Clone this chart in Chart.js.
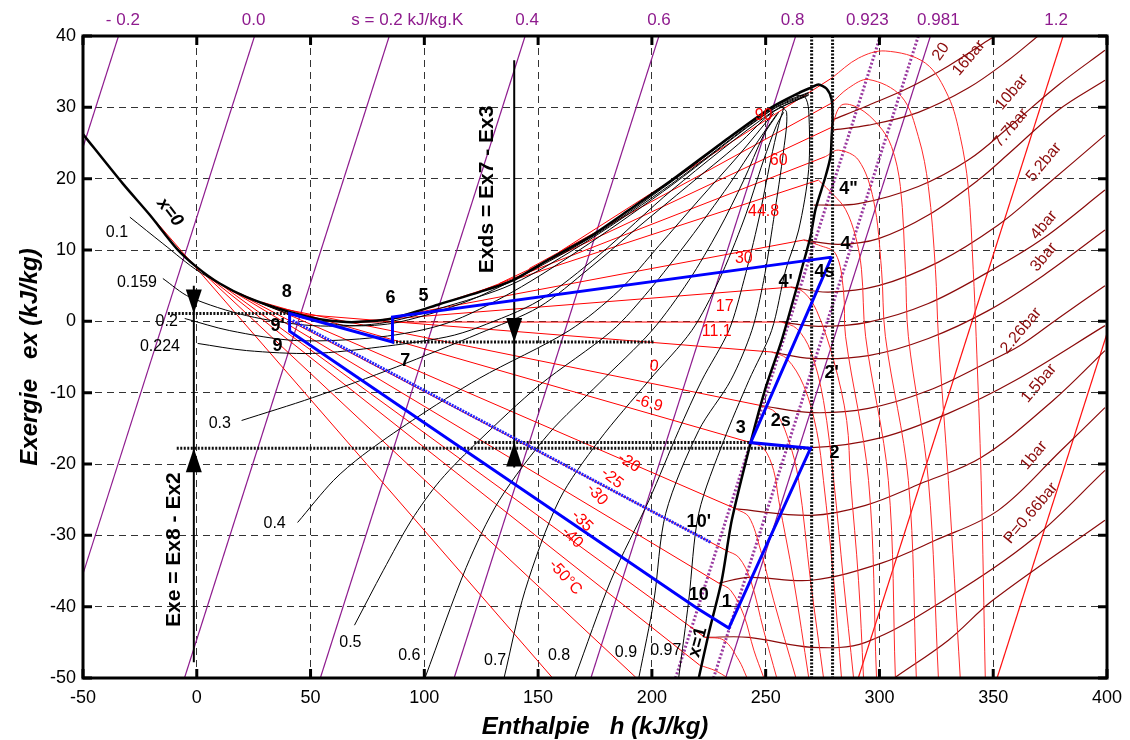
<!DOCTYPE html>
<html>
<head>
<meta charset="utf-8">
<script src="https://cdn.jsdelivr.net/npm/chart.js@4.4.1/dist/chart.umd.min.js"></script>
<style>
  html, body { margin: 0; padding: 0; background: #fff; }
</style>
</head>
<body>
<canvas id="chartdiv" width="1130" height="740"></canvas>
<script>
// ---- data (h in kJ/kg, ex in kJ/kg) ----

// saturation dome: x=0 branch, critical point, x=1 branch
const domeCurve = [[-50.4,26.4],[-32.5,19.3],[-20.6,14.9],[-8.8,10.2],[0,7.6],[10.1,5.3],[21.9,3.4],[40.8,1.3],
  [53.9,0.3],[65.8,-0.1],[75.9,0.0],[86.0,0.4],[97.8,1.5],[106.6,2.4],[124.1,4.1],[138.6,5.7],[154.8,8.7],
  [172.4,11.8],[189.9,15.6],[208.8,19.8],[230.7,25.0],[252.6,30.0],[264.5,32.0],[270.2,32.8],[273.2,33.2],
  [276.8,32.6],[279.0,31.1],[279.4,28.3],[279.0,25.9],[278.5,23.1],[276.3,20.3],[271.9,15.7],[269.7,11.9],
  [265.8,7.3],[264.5,5.7],[257.0,-2.7],[250.0,-9.3],[243.4,-17.0],[235.1,-27.9],[230.7,-36.3],[225.0,-43.7],[220.6,-50.0]];

// isentropes: h where each line meets ex=40 and ex=-50
const sTopH = [-34.4, 25.4, 84.6, 144.3, 203.1, 263.2, 300.4, 317.1, 322.4, 380.7, 441.7];
const sBotH = [-124.4, -64.6, -5.4, 54.3, 113.1, 173.2, 210.4, 227.1, 232.4, 290.7, 351.7];
const sLabels = ['- 0.2', '0.0', 's = 0.2 kJ/kg.K', '0.4', '0.6', '0.8', '0.923', '0.981', '1.2'];
const sLabelH = [-32.5, 25.0, 92.5, 145.2, 203.1, 261.8, 294.7, 325.9, 377.6];

// two-phase isotherms (liquid point -> vapour point)
const fanTemps = ['90','80','60','50','44.8','30','17','11.1','0','-6.9','-10','-20','-25','-30','-35','-40','-50','-55'];
const fanLines = [
  [[159.2,9.7],[279.0,34.1]], [[146.1,7.4],[279.0,30.6]], [[132.9,5.3],[279.0,27.2]], [[121.9,3.9],[276.3,23.1]],
  [[113.2,3.1],[273.2,19.8]], [[91.2,0.9],[266.7,11.4]], [[71.5,0.0],[261.0,4.8]], [[62.7,-0.1],[257.0,-0.1]],
  [[45.2,1.0],[252.6,-4.3]], [[34.2,2.0],[247.8,-11.8]], [[28.5,2.7],[243.4,-17.0]], [[18.9,3.9],[237.0,-26.3]],
  [[14.5,4.5],[232.5,-32.1]], [[10.1,5.3],[229.4,-36.7]], [[5.7,6.3],[223.3,-44.3]], [[1.3,7.2],[221.0,-48.2]],
  [[-3.0,8.5],[192.9,-49.9]], [[-18.0,14.0],[156.1,-49.9]]
];

// superheated isotherms, same order as fanTemps (90 ... -40)
const superLines = [
  [[279.0,34.1],[290.8,36.9],[302.6,37.9],[320.2,36.2],[330.3,31.5],[335.5,25.9],[339.0,18.9],[341.2,7.3],[342.5,-2.1],[344.7,-22.3],[346.5,-49.9]],
  [[279.0,30.6],[286.4,32.7],[295.2,33.9],[309.7,31.5],[317.1,25.9],[321.5,18.9],[324.6,7.3],[325.9,-2.1],[330.3,-22.3],[335.5,-49.9]],
  [[279.0,27.2],[283.3,30.3],[290.8,29.9],[299.6,27.5],[305.3,24.5],[309.2,18.9],[311.4,7.3],[312.7,-2.1],[321.5,-22.3],[325.9,-49.9]],
  [[276.3,23.1],[282.0,24.0],[290.8,22.6],[297.4,17.0],[300.9,7.3],[302.6,-2.1],[312.7,-22.3],[316.2,-49.9]],
  [[273.2,19.8],[279.9,17.7],[285.1,15.7],[289.5,11.9],[292.1,7.3],[293.9,-2.1],[303.9,-22.3],[307.0,-49.9]],
  [[266.7,11.4],[273.2,10.7],[280.7,9.5],[284.2,4.3],[285.1,-2.1],[295.2,-22.3],[298.7,-49.9]],
  [[261.0,4.8],[266.7,4.1],[272.4,1.5],[279.9,-5.5],[285.6,-13.9],[287.3,-22.3],[290.8,-36.3],[293.0,-49.9]],
  [[257.0,-0.1],[263.6,-1.0],[269.7,-4.1],[275.4,-11.1],[279.9,-22.3],[284.2,-36.3],[288.6,-49.9]],
  [[252.6,-4.3],[259.2,-5.2],[266.7,-9.0],[272.4,-15.3],[275.4,-22.3],[279.9,-36.3],[283.3,-49.9]],
  [[247.8,-11.8],[254.4,-12.8],[260.1,-16.7],[264.5,-22.3],[269.7,-36.3],[275.4,-49.9]],
  [[243.4,-17.0],[249.1,-17.8],[253.5,-20.9],[255.7,-25.0],[262.3,-36.3],[268.9,-49.9]],
  [[237.0,-26.3],[242.6,-27.4],[247.8,-32.1],[253.5,-39.1],[263.2,-49.9]],
  [[232.5,-32.1],[238.2,-33.1],[243.4,-36.3],[249.1,-43.3],[254.8,-49.9]],
  [[229.4,-36.7],[234.6,-37.7],[240.4,-41.2],[244.8,-46.1],[249.1,-49.9]],
  [[223.3,-44.3],[231.6,-44.7],[238.2,-47.5],[241.7,-49.9]],
  [[221.0,-48.2],[228.1,-49.0],[232.9,-49.9]]
];

// lines of constant quality x
const qualityNames = ['0.1','0.159','0.2','0.224','0.3','0.4','0.5','0.6','0.7','0.8','0.9','0.97'];
const qualityLines = [
  [[-29.4,14.6],[-14.9,10.9],[1.3,6.9],[23.2,3.2],[45.2,0.6],[67.1,-0.6],[89.0,-0.1],[124.1,3.5],[172.4,11.6],[208.8,19.6],[252.6,29.9],[268.9,32.1]],
  [[-14.9,6.0],[-3.1,3.4],[21.9,0.8],[50.9,-0.6],[80.3,-0.3],[106.6,1.8],[138.6,5.2],[172.4,11.4],[208.8,19.3],[252.6,29.7],[268.9,32.0]],
  [[-5.3,0.4],[14.5,-1.3],[43.9,-2.7],[80.3,-2.2],[109.6,-0.3],[138.6,4.1],[172.4,10.9],[208.8,19.1],[252.6,29.6],[268.9,31.8]],
  [[0.4,-3.1],[21.9,-4.1],[50.9,-4.5],[80.3,-3.6],[109.6,-2.2],[124.1,-0.8],[150.4,2.9],[176.8,9.3],[208.8,18.4],[252.6,29.3],[268.9,31.7]],
  [[19.7,-13.9],[50.9,-10.7],[87.7,-6.4],[124.1,-1.7],[150.4,2.0],[172.4,7.4],[194.3,13.3],[216.2,19.1],[238.2,24.9],[252.6,29.2],[266.7,31.5]],
  [[44.3,-28.2],[60.1,-22.3],[72.8,-18.8],[94.7,-13.9],[124.1,-8.0],[163.6,-1.3],[185.5,4.3],[203.1,10.6],[220.6,17.0],[238.2,23.3],[253.5,29.2]],
  [[69.3,-42.6],[82.0,-34.9],[94.3,-27.9],[107.0,-22.3],[124.1,-16.7],[150.4,-9.0],[182.5,-1.3],[198.7,4.3],[216.2,11.4],[233.8,19.1],[246.9,25.4],[254.8,29.0]],
  [[100.4,-49.9],[118.4,-34.5],[132.9,-25.1],[154.8,-15.7],[176.8,-8.7],[200.0,-1.3],[216.2,5.7],[229.4,12.8],[240.4,19.8],[249.1,26.1],[255.7,29.3]],
  [[135.1,-49.9],[144.3,-37.7],[159.2,-25.1],[176.8,-16.7],[198.7,-8.3],[217.5,-1.3],[229.4,5.7],[240.4,14.2],[249.1,22.6],[254.8,27.5],[257.9,29.3]],
  [[166.2,-49.9],[182.0,-36.3],[198.7,-25.1],[211.8,-15.3],[221.9,-8.3],[233.8,-1.3],[240.4,5.7],[246.9,14.2],[252.2,22.6],[255.7,27.5],[257.9,29.9]],
  [[194.3,-49.9],[200.9,-39.1],[206.1,-26.9],[220.6,-15.3],[234.6,-8.3],[243.9,-1.3],[249.1,5.7],[253.5,14.3],[257.9,24.0],[259.2,29.3],[255.7,30.3]],
  [[211.8,-49.9],[216.2,-39.1],[220.6,-26.9],[231.6,-16.7],[242.6,-8.3],[252.6,-1.3],[258.8,7.2],[264.5,12.8],[268.9,21.3],[268.9,29.6],[267.1,31.5],[262.3,31.7]]
];

// isobars in the superheated region
const isobarNames = ['20','16bar','10bar','7.7bar','5.2bar','4bar','3bar','2.26bar','','1.5bar','1bar','P=0.66bar',''];
const isobarLines = [
  [[279.0,28.2],[295.2,30.3],[312.7,32.7],[330.3,35.8],[347.8,39.4],[350.9,40.0]],
  [[279.0,26.8],[295.2,27.5],[317.1,29.3],[339.0,32.7],[356.6,36.6],[369.7,40.0]],
  [[271.1,16.3],[290.8,16.5],[317.1,18.9],[339.0,22.6],[357.9,27.5],[378.5,33.1],[399.1,38.0]],
  [[266.7,11.4],[282.0,10.8],[299.6,11.6],[321.5,14.9],[343.4,19.8],[357.5,23.7],[378.5,29.6],[399.1,33.8]],
  [[261.0,4.8],[277.6,4.1],[299.6,5.0],[325.9,8.3],[352.2,13.5],[371.9,18.7],[399.1,26.1]],
  [[257.0,-0.1],[273.2,-0.7],[295.2,-0.1],[321.5,2.5],[347.8,6.9],[371.9,11.6],[399.1,18.4]],
  [[252.6,-4.3],[270.2,-5.2],[295.2,-4.8],[321.5,-2.4],[347.8,1.5],[371.9,6.4],[399.1,12.8]],
  [[247.8,-11.8],[270.2,-12.8],[295.2,-12.2],[321.5,-9.7],[347.8,-5.7],[361.8,-3.4],[378.5,0.4],[399.1,5.0]],
  [[243.4,-17.0],[270.2,-17.7],[300.9,-16.3],[330.3,-12.9],[359.6,-8.3],[399.1,-0.6]],
  [[237.0,-26.3],[270.2,-27.2],[293.9,-25.8],[318.4,-22.7],[344.7,-19.1],[376.3,-11.1],[399.1,-4.1]],
  [[229.4,-36.7],[242.6,-35.9],[270.2,-36.3],[300.9,-33.9],[324.6,-30.7],[352.2,-26.5],[379.8,-18.1],[399.1,-12.1]],
  [[223.3,-44.3],[242.6,-44.3],[270.2,-45.7],[293.9,-45.0],[330.3,-38.7],[366.7,-30.7],[399.1,-20.9]],
  [[307.0,-49.9],[330.3,-44.7],[349.8,-39.1],[399.1,-27.9]]
];

// refrigeration cycle 4-6-7-8-9'-10-1-2-3-4 and the 10' branch
const cyclePath = [[279.0,9.0],[86.0,0.6],[86.0,-2.9],[40.8,1.1],[40.8,-1.4],[219.7,-40.2],[233.8,-43.0],[269.7,-17.8],[243.4,-17.0],[279.0,9.0]];
const branch10p = [[42.1,0.1],[225.9,-31.0]];

// dotted reference levels
const levelLines = [
  [[-12.7,1.1],[40.8,1.1]], [[86.0,-2.9],[200.9,-2.9]],
  [[-8.8,-17.8],[269.7,-17.8]], [[121.9,-17.0],[243.4,-17.0]],
  [[270.2,40],[270.2,-50]], [[279.4,40],[279.4,-50]]
];

// exergy difference arrows
const exdsLine = [[139.5,36.6],[139.5,-20.5]];
const exeLine = [[-1.3,5.0],[-1.3,-47.8]];
const arrowTips = [[139.5,-2.9,1],[139.5,-17.0,-1],[-1.3,1.1,1],[-1.3,-17.8,-1]];

// annotations
const pointLabels = [['8',39.5,4.1],['6',85.1,3.2],['5',99.6,3.5],["9'",35.5,-0.7],['9',35.5,-3.4],['7',91.6,-5.5],
  ['4"',286.4,18.6],['4',285.1,10.9],["4'",258.8,5.5],['4s',275.9,6.9],["2'",279.0,-7.2],['3',239.0,-14.9],
  ['2s',256.6,-14.0],['2',280.3,-18.5],["10'",220.6,-28.2],['10',220.6,-38.3],['1',232.9,-39.3]];
const qualityLabelPos = [[-35.1,12.5],[-26.3,5.5],[-13.2,0.0],[-16.2,-3.6],[10.1,-14.3],[34.2,-28.3],[67.5,-45.1],
  [93.4,-46.8],[131.1,-47.5],[159.2,-46.8],[188.6,-46.4],[206.1,-46.1]];
const tempLabels = [['90',249.1,28.9,0],['60',255.7,22.6,0],['44.8',249.1,15.4,0],['30',240.4,8.8,0],['17',232.0,2.0,0],
  ['11.1',228.5,-1.5,0],['0',200.9,-6.3,8],['-6.9',198.7,-11.5,15],['-20',189.9,-19.8,33],['-25',182.5,-22.0,38],
  ['-30',175.9,-24.3,48],['-35',169.3,-28.0,45],['-40',165.0,-30.3,45],['-50°C',161.9,-35.9,48]];
const isobarLabelPos = [[327.0,37.8],[339.3,36.9],[358.2,32.1],[357.8,27.1],[372.3,22.3],[372.3,13.5],[372.3,9.0],
  [362.2,-1.3],null,[370.1,-8.7],[367.9,-18.8],[366.6,-26.9],null];

// ---- build datasets ----
const FONT = '"Liberation Sans", Arial, sans-serif';
const toPts = arr => arr.map(p => ({ x: p[0], y: p[1] }));
const datasets = [];
function addLine(arr, color, width, order, extra) {
  datasets.push(Object.assign({
    data: toPts(arr), showLine: true, borderColor: color, borderWidth: width,
    pointRadius: 0, pointHoverRadius: 0, fill: false, tension: 0, clip: 0, order: order
  }, extra || {}));
}

sTopH.forEach((h, i) => {
  let color = '#8e1b8e', width = 1.2, dash = [];
  if (i === 6 || i === 7) { color = '#9a3aa0'; width = 3; dash = [2, 2]; }
  if (i >= 9) { color = '#ff1010'; }
  addLine([[h, 40], [sBotH[i], -50]], color, width, 10, { borderDash: dash });
});
isobarLines.forEach(l => addLine(l, '#8b0a0a', 1.2, 9, { tension: 0.35 }));
superLines.forEach(l => addLine(l, '#ff2a2a', 1, 8, { tension: 0.35 }));
fanLines.forEach(l => addLine(l, '#ff0000', 1, 7));
qualityLines.forEach(l => addLine(l, '#000000', 1, 6, { tension: 0.3 }));
addLine(domeCurve, '#000000', 2.5, 5, { tension: 0.25 });
levelLines.forEach(l => addLine(l, '#111111', 3, 4, { borderDash: [2, 1.5] }));
addLine(exdsLine, '#000000', 2, 3);
addLine(exeLine, '#000000', 2, 3);
addLine(branch10p, '#2222ff', 3, 2, { borderDash: [2, 1] });
addLine(cyclePath, '#0000ff', 3, 1);

// ---- overlay: frame, ticks, arrows and text ----
function put(ctx, s, X, Y, font, color, deg) {
  ctx.save();
  ctx.translate(X, Y);
  if (deg) ctx.rotate(deg * Math.PI / 180);
  ctx.font = font; ctx.fillStyle = color;
  ctx.textAlign = 'center'; ctx.textBaseline = 'middle';
  ctx.fillText(s, 0, 0);
  ctx.restore();
}

const overlay = {
  id: 'overlay',
  afterDatasetsDraw(chart) {
    const { ctx, chartArea: a, scales } = chart;
    const px = h => scales.x.getPixelForValue(h);
    const py = e => scales.y.getPixelForValue(e);
    ctx.save();

    // arrow heads
    ctx.fillStyle = '#000';
    arrowTips.forEach(t => {
      const X = px(t[0]), Y = py(t[1]), d = t[2];
      ctx.beginPath();
      ctx.moveTo(X, Y);
      ctx.lineTo(X - 8, Y - d * 24);
      ctx.lineTo(X + 8, Y - d * 24);
      ctx.closePath();
      ctx.fill();
    });

    // frame and inward ticks
    ctx.strokeStyle = '#000'; ctx.lineWidth = 3;
    ctx.strokeRect(a.left, a.top, a.right - a.left, a.bottom - a.top);
    ctx.beginPath();
    for (let h = -50; h <= 400; h += 50) {
      const X = px(h);
      ctx.moveTo(X, a.bottom); ctx.lineTo(X, a.bottom - 9);
      ctx.moveTo(X, a.top); ctx.lineTo(X, a.top + 9);
    }
    for (let e = -50; e <= 40; e += 10) {
      const Y = py(e);
      ctx.moveTo(a.left, Y); ctx.lineTo(a.left + 9, Y);
      ctx.moveTo(a.right, Y); ctx.lineTo(a.right - 9, Y);
    }
    ctx.stroke();

    // entropy labels above the frame
    sLabels.forEach((s, i) => put(ctx, s, px(sLabelH[i]), a.top - 16, '17px ' + FONT, '#8e1b8e', 0));

    // quality labels
    qualityNames.forEach((s, i) => {
      const p = qualityLabelPos[i];
      put(ctx, s, px(p[0]), py(p[1]), '16px ' + FONT, '#000', 0);
    });
    put(ctx, 'x=0', px(-11.8), py(15.3), 'italic bold 18px ' + FONT, '#000', 52);
    put(ctx, 'x=1', px(220.2), py(-45.0), 'bold 18px ' + FONT, '#000', -75);

    // temperature labels
    tempLabels.forEach(t => put(ctx, t[0], px(t[1]), py(t[2]), '16px ' + FONT, '#ff0000', t[3]));

    // isobar labels
    isobarNames.forEach((s, i) => {
      const p = isobarLabelPos[i];
      if (!p || !s) return;
      put(ctx, s, px(p[0]), py(p[1]), '16px ' + FONT, '#8b0a0a', i === 0 ? -55 : -50);
    });

    // cycle state points
    pointLabels.forEach(l => put(ctx, l[0], px(l[1]), py(l[2]), 'bold 18px ' + FONT, '#000', 0));

    // exergy differences
    put(ctx, 'Exds = Ex7 - Ex3', px(127.6), py(18.5), 'bold 21px ' + FONT, '#000', -90);
    put(ctx, 'Exe = Ex8 - Ex2', px(-10.1), py(-32.0), 'bold 21px ' + FONT, '#000', -90);

    // axis titles
    put(ctx, 'Enthalpie   h (kJ/kg)', (a.left + a.right) / 2, 727, 'italic bold 24px ' + FONT, '#000', 0);
    put(ctx, 'Exergie   ex (kJ/kg)', 30, (a.top + a.bottom) / 2, 'italic bold 24px ' + FONT, '#000', -90);

    ctx.restore();
  }
};

const ctx = document.querySelector('#chartdiv');
new Chart(ctx, {
  type: 'scatter',
  data: { datasets: datasets },
  options: {
    responsive: false,
    animation: false,
    devicePixelRatio: 1,
    events: [],
    layout: { padding: { left: 0, right: 23, top: 36, bottom: 0 } },
    plugins: { legend: { display: false }, tooltip: { enabled: false } },
    scales: {
      x: {
        type: 'linear', min: -50, max: 400,
        ticks: { stepSize: 50, padding: 9, color: '#000', font: { family: FONT, size: 18 }, maxRotation: 0 },
        grid: { color: '#333', lineWidth: 1, drawTicks: false },
        border: { display: false, dash: [7, 5] },
        afterFit(s) { s.height = 62; s.paddingLeft = 0; s.paddingRight = 0; }
      },
      y: {
        type: 'linear', min: -50, max: 40,
        ticks: { stepSize: 10, padding: 7, color: '#000', font: { family: FONT, size: 18 } },
        grid: { color: '#333', lineWidth: 1, drawTicks: false },
        border: { display: false, dash: [7, 5] },
        afterFit(s) { s.width = 83; s.paddingTop = 0; s.paddingBottom = 0; }
      }
    }
  },
  plugins: [overlay]
});
</script>
</body>
</html>
